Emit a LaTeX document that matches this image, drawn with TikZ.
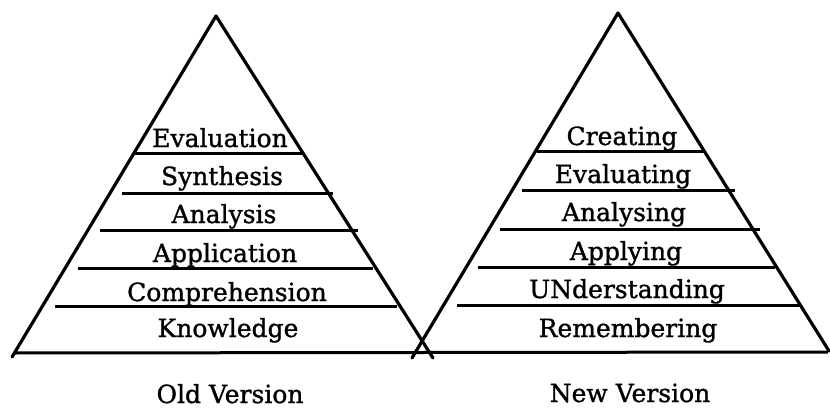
\documentclass[tikz,border=0pt]{standalone}
\usepackage{fontspec}
\setmainfont[FakeBold=1.2]{DejaVu Serif}
\begin{document}
\begin{tikzpicture}[x=1pt,y=1pt,
  side/.style={line width=3.2pt,line cap=round,line join=round},
  layer/.style={line width=3pt},
  lbl/.style={anchor=base,inner sep=0pt,font=\fontsize{25}{30}\selectfont}]
\useasboundingbox (0,0) rectangle (830,408);
% pyramid corners
\coordinate (LA) at (216,392);
\coordinate (LL) at (12,51);
\coordinate (LR) at (433,50);
\coordinate (RA) at (618,395);
\coordinate (RL) at (412,50);
\coordinate (RR) at (829,57);
\draw[side] (LL) -- (LA) -- (LR);
\draw[side] (RL) -- (RA) -- (RR);
\coordinate (B1) at (14,55);
\coordinate (B2) at (828,56);
\draw[layer] (B1) -- (B2);
% left layer lines
\draw[layer] (135,255) -- (303,255);
\draw[layer] (122,215) -- (333,215);
\draw[layer] (100,178) -- (358,178);
\draw[layer] (78,140) -- (373,140);
\draw[layer] (55,102) -- (397,102);
% right layer lines
\draw[layer] (537,257) -- (705,257);
\draw[layer] (522,218) -- (735,218);
\draw[layer] (500,179) -- (760,179);
\draw[layer] (478,141) -- (775,141);
\draw[layer] (457,103) -- (800,103);
% left labels
\node[lbl] (eval) at (220,261) {Evaluation};
\node[lbl] (syn) at (222,223) {Synthesis};
\node[lbl] (ana) at (224,185) {Analysis};
\node[lbl] (app) at (225,146) {Application};
\node[lbl] (comp) at (227,107) {Comprehension};
\node[lbl] (know) at (228,71) {Knowledge};
\node[lbl] (old) at (230,5) {Old Version};
% right labels
\node[lbl] (cre) at (622,263) {Creating};
\node[lbl] (evg) at (623,225) {Evaluating};
\node[lbl] (anag) at (624,187) {Analysing};
\node[lbl] (appg) at (626,148) {Applying};
\node[lbl] (und) at (627,110) {UNderstanding};
\node[lbl] (rem) at (628,71) {Remembering};
\node[lbl] (new) at (630,6) {New Version};
\end{tikzpicture}
\end{document}
